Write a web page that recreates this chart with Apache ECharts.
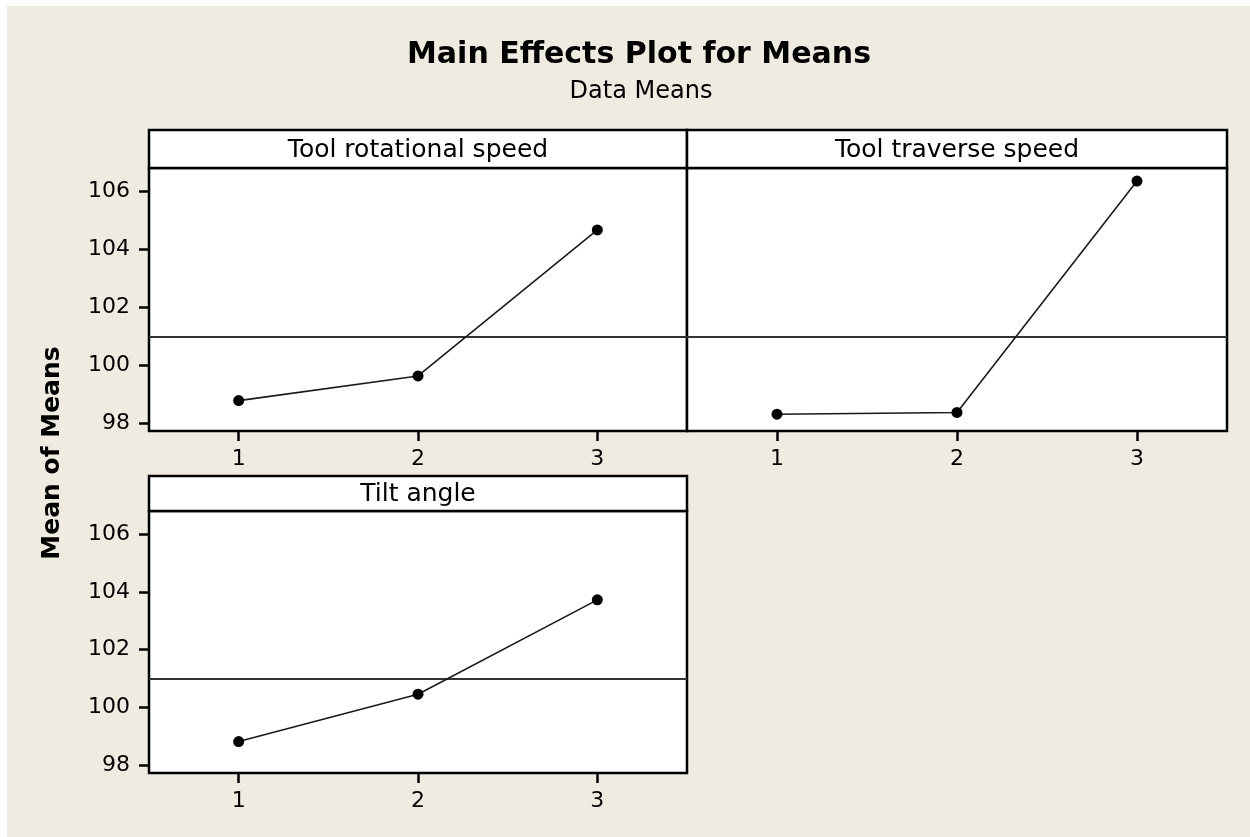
<!DOCTYPE html>
<html>
<head>
<meta charset="utf-8">
<script src="https://cdn.jsdelivr.net/npm/echarts@6/dist/echarts.min.js"></script>
<style>
html,body{margin:0;padding:0;background:#fff;}
#chart{width:1250px;height:837px;}
</style>
</head>
<body>
<div id="chart"></div>
<script>
// ---- data ----
const levels = ['1', '2', '3'];
const panelTitles = ['Tool rotational speed', 'Tool traverse speed', 'Tilt angle'];
const toolRotationalSpeed = [98.77, 99.62, 104.66];
const toolTraverseSpeed = [98.30, 98.36, 106.35];
const tiltAngle = [98.81, 100.45, 103.72];
const grandMean = 100.97;
const yTicks = [98, 100, 102, 104, 106];

const seriesData = [toolRotationalSpeed, toolTraverseSpeed, tiltAngle];

// ---- layout ----
const BG = '#EFEBE1';
const FONT = 'DejaVu Sans';
const panels = [
  {left: 149, top: 168, width: 538, height: 263, stripTop: 130, showY: true},
  {left: 687, top: 168, width: 540, height: 263, stripTop: 130, showY: false},
  {left: 149, top: 511, width: 538, height: 262, stripTop: 476, showY: true}
];

const chart = echarts.init(document.getElementById('chart'), null, {renderer: 'canvas'});

const grids = [], xAxes = [], yAxes = [], series = [], graphics = [];

graphics.push({type: 'rect', silent: true, z: 100, shape: {x: 0, y: 0, width: 1250, height: 6}, style: {fill: '#fff'}});
graphics.push({type: 'rect', silent: true, z: 100, shape: {x: 0, y: 0, width: 7, height: 837}, style: {fill: '#fff'}});

panels.forEach((p, i) => {
  grids.push({
    left: p.left, top: p.top, width: p.width, height: p.height,
    show: true, backgroundColor: '#fff', borderColor: '#000', borderWidth: 2.5, containLabel: false
  });
  xAxes.push({
    type: 'category', gridIndex: i, data: levels, boundaryGap: true,
    axisLine: {show: false},
    axisTick: {show: true, alignWithLabel: true, length: 10, inside: false, lineStyle: {color: '#000', width: 2.5}},
    axisLabel: {show: true, margin: 17, color: '#000', fontFamily: FONT, fontSize: 22},
    splitLine: {show: false}
  });
  yAxes.push({
    type: 'value', gridIndex: i, min: 97.72, max: 106.8,
    axisLine: {show: false},
    axisTick: {show: p.showY, length: 10, customValues: yTicks, lineStyle: {color: '#000', width: 2.5}},
    axisLabel: {show: p.showY, margin: 19, customValues: yTicks, color: '#000', fontFamily: FONT, fontSize: 22},
    splitLine: {show: false}
  });
  series.push({
    type: 'line', xAxisIndex: i, yAxisIndex: i, data: seriesData[i],
    symbol: 'circle', symbolSize: 11,
    itemStyle: {color: '#000'},
    lineStyle: {color: '#1a1a1a', width: 1.6},
    animation: false, z: 5,
    markLine: {
      silent: true, symbol: ['none', 'none'], label: {show: false},
      lineStyle: {color: '#333', width: 2.2, type: 'solid'},
      data: [{yAxis: grandMean}], animation: false
    }
  });
  // strip box
  graphics.push({
    type: 'rect', silent: true, z: 10,
    shape: {x: p.left, y: p.stripTop, width: p.width, height: p.top - p.stripTop},
    style: {fill: '#fff', stroke: '#000', lineWidth: 2.5}
  });
  graphics.push({
    type: 'text', silent: true, z: 11,
    x: p.left + p.width / 2, y: (p.stripTop + p.top) / 2 + 1,
    style: {text: panelTitles[i], fill: '#000', font: '25px "' + FONT + '"', align: 'center', verticalAlign: 'middle'}
  });
});

graphics.push({
  type: 'text', silent: true, z: 11,
  x: 52, y: 453, rotation: Math.PI / 2,
  style: {text: 'Mean of Means', fill: '#000', font: 'bold 25px "' + FONT + '"', align: 'center', verticalAlign: 'middle'}
});

chart.setOption({
  backgroundColor: BG,
  animation: false,
  title: [
    {
      text: 'Main Effects Plot for Means',
      left: 639, top: 40, textAlign: 'center', padding: 0,
      textStyle: {fontFamily: FONT, fontWeight: 'bold', fontSize: 30, color: '#000'}
    },
    {
      text: 'Data Means',
      left: 641, top: 80, textAlign: 'center', padding: 0,
      textStyle: {fontFamily: FONT, fontWeight: 'normal', fontSize: 24, color: '#000'}
    }
  ],
  grid: grids,
  xAxis: xAxes,
  yAxis: yAxes,
  series: series,
  graphic: graphics
});
</script>
</body>
</html>
